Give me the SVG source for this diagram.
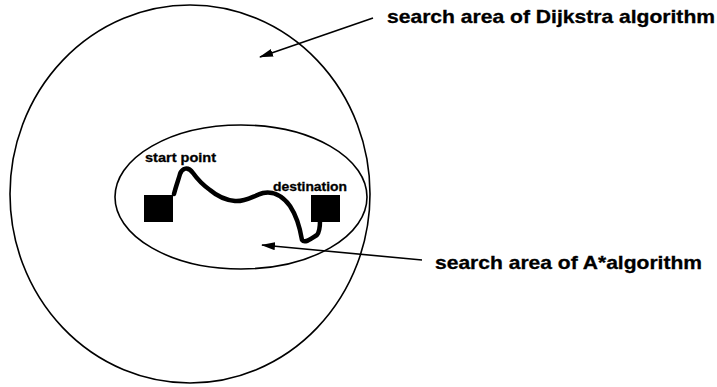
<svg xmlns="http://www.w3.org/2000/svg" width="717" height="387" viewBox="0 0 717 387">
<style>
.area{fill:none;stroke:#000;stroke-width:1.6}
.lbl{font-family:"Liberation Sans",Arial,sans-serif;font-weight:bold;fill:#000;stroke:#000;stroke-width:0.3}
.big{font-size:18.5px}
.small{font-size:13px}
.conn{stroke:#000;stroke-width:1.6;fill:none}
</style>
<defs>
<marker id="ah" viewBox="0 0 14 8" refX="13" refY="4" markerWidth="14" markerHeight="8" markerUnits="userSpaceOnUse" orient="auto">
<path d="M0,0 L14,4 L0,8 Z" fill="#000"/>
</marker>
</defs>
<rect width="717" height="387" fill="#fff"/>
<g id="dijkstra-area"><ellipse class="area" cx="190" cy="194" rx="180" ry="189"/></g>
<g id="astar-area"><ellipse class="area" cx="241" cy="197" rx="126" ry="72"/></g>
<g id="start"><rect x="144" y="195" width="29" height="27" fill="#000"/><text class="lbl small" x="145" y="162" textLength="71" lengthAdjust="spacingAndGlyphs">start point</text></g>
<g id="destination"><rect x="311" y="195" width="29" height="27" fill="#000"/><text class="lbl small" x="273" y="191" textLength="74" lengthAdjust="spacingAndGlyphs">destination</text></g>
<g id="route"><path d="M174,194 C176,186 179,178 180,174 C182,168 188,166 193,173 C198,180 203,185 210,190 C217,196 225,200 235,201 C245,202 253,196 263,193 C272,191 282,195 290,206 C296,215 300,228 302,240 C305,244 312,238 317,235 C320,231 320,226 320,221" fill="none" stroke="#000" stroke-width="4.5" stroke-linecap="round" stroke-linejoin="round"/></g>
<g id="labels">
<text class="lbl big" x="387" y="23" textLength="328" lengthAdjust="spacingAndGlyphs">search area of Dijkstra algorithm</text>
<text class="lbl big" x="435" y="269" textLength="267" lengthAdjust="spacingAndGlyphs">search area of A*algorithm</text>
</g>
<g id="connectors">
<line class="conn" x1="373" y1="18" x2="260" y2="57" marker-end="url(#ah)"/>
<line class="conn" x1="422" y1="260" x2="262" y2="245" marker-end="url(#ah)"/>
</g>
</svg>
